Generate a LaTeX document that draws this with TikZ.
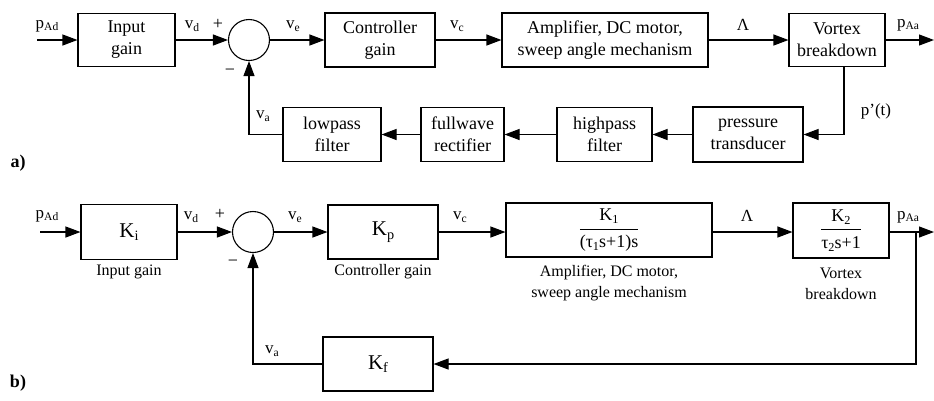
\documentclass[tikz,border=0pt]{standalone}
\usepackage{fontspec}
\setmainfont{Liberation Serif}
\usetikzlibrary{arrows.meta}
\newcommand{\lo}[1]{\raisebox{-0.35ex}{\scalebox{0.68}{#1}}}
\newcommand{\fr}[2]{\begin{tabular}{@{}c@{}}#1\\[1pt]\hline\rule{0pt}{19pt}#2\end{tabular}}
\tikzset{
  blk/.style={draw, line width=1.1pt, inner sep=0pt, align=center, font=\fontsize{18}{22}\selectfont},
  kblk/.style={draw, line width=1.1pt, inner sep=0pt, align=center, font=\fontsize{21}{24}\selectfont},
  sumc/.style={draw, circle, line width=1.1pt, inner sep=0pt, minimum size=41pt},
  arr/.style={line width=1.1pt, -{Triangle[length=15pt,width=11pt]}},
  ln/.style={line width=1.1pt},
  sig/.style={inner sep=0pt, font=\fontsize{17}{19}\selectfont},
  capt/.style={inner sep=0pt, align=center, font=\fontsize{16}{21}\selectfont},
  pm/.style={inner sep=0pt, font=\fontsize{18}{20}\selectfont},
  lab/.style={inner sep=0pt, font=\fontsize{18}{20}\selectfont\bfseries}
}
\begin{document}
\begin{tikzpicture}[x=1pt,y=-1pt]
\useasboundingbox (0,0) rectangle (934,400);
% ---------------- a) ----------------
\node[blk, minimum width=97pt, minimum height=53pt] (in) at (126.5,40) {Input\\gain};
\node[sumc] (sum) at (249,40) {};
\node[blk, minimum width=110pt, minimum height=54pt] (ctrl) at (380,40) {Controller\\gain};
\node[blk, minimum width=206pt, minimum height=54pt] (amp) at (605,40) {Amplifier, DC motor,\\sweep angle mechanism};
\node[blk, minimum width=96pt, minimum height=53pt] (vor) at (837,40) {Vortex\\breakdown};
\node[blk, minimum width=110pt, minimum height=55pt] (pt) at (748,134.5) {pressure\\transducer};
\node[blk, minimum width=95pt, minimum height=54pt] (hp) at (604.5,134.5) {highpass\\filter};
\node[blk, minimum width=83pt, minimum height=54pt] (fw) at (462.5,134.5) {fullwave\\rectifier};
\node[blk, minimum width=98pt, minimum height=54pt] (lp) at (332,134.5) {lowpass\\filter};
\coordinate (inA) at (37,40);
\coordinate (outA) at (934,40);
\coordinate (fbA) at (844,134.5);
\draw[arr] (inA) -- (in);
\draw[arr] (in) -- (sum);
\draw[arr] (sum) -- (ctrl);
\draw[arr] (ctrl) -- (amp);
\draw[arr] (amp) -- (vor);
\draw[arr] (vor) -- (outA);
\draw[arr] (vor.south -| fbA) -- (fbA) -- (pt);
\draw[arr] (pt) -- (hp);
\draw[arr] (hp) -- (fw);
\draw[arr] (fw) -- (lp);
\draw[arr] (lp.west) -| (sum.south);
\node[sig] (lpad) at (47,26) {p\lo{Ad}};
\node[sig] (lvd) at (192,26) {v\lo{d}};
\node[pm] (lplus) at (218,24) {+};
\node[pm] (lminus) at (230,72) {\textminus};
\node[sig] (lve) at (293,26) {v\lo{e}};
\node[sig] (lvc) at (457,26) {v\lo{c}};
\node[sig] (llam) at (743,25) {Λ};
\node[sig] (lpaa) at (908,25) {p\lo{Aa}};
\node[sig] (lpt) at (876,111) {p'(t)};
\node[sig] (lva) at (263,116) {v\lo{a}};
\node[lab] (la) at (18,163) {a)};
% ---------------- b) ----------------
\node[kblk, minimum width=96pt, minimum height=55pt] (ki) at (129,232) {K\lo{i}};
\node[sumc] (sumb) at (253,232) {};
\node[kblk, minimum width=110pt, minimum height=54pt] (kp) at (383,232) {K\lo{p}};
\node[blk, minimum width=206pt, minimum height=54pt] (k1) at (609,230) {\fr{K\lo{1}}{(τ\lo{1}s+1)s}};
\node[blk, minimum width=96pt, minimum height=55pt] (k2) at (841,230.5) {\fr{K\lo{2}}{τ\lo{2}s+1}};
\node[kblk, minimum width=110pt, minimum height=54pt] (kf) at (378,364) {K\lo{f}};
\coordinate (inB) at (40,232);
\coordinate (outB) at (934,232);
\coordinate (brB) at (916,232);
\draw[arr] (inB) -- (ki);
\draw[arr] (ki) -- (sumb);
\draw[arr] (sumb) -- (kp);
\draw[arr] (kp) -- (k1.west |- kp);
\draw[arr] (k1.east |- kp) -- (k2.west |- kp);
\draw[arr] (k2.east |- kp) -- (outB);
\draw[arr] (brB) |- (kf);
\draw[arr] (kf.west) -| (sumb.south);
\node[capt] (cki) at (129,272) {Input gain};
\node[capt] (ckp) at (383,272) {Controller gain};
\node[capt] (ck1) at (609,283) {Amplifier, DC motor,\\sweep angle mechanism};
\node[capt] (ck2) at (841,284) {Vortex\\breakdown};
\node[sig] (lpadb) at (47,216) {p\lo{Ad}};
\node[sig] (lvdb) at (191,217) {v\lo{d}};
\node[pm] (lplusb) at (220,214) {+};
\node[pm] (lminusb) at (233,263) {\textminus};
\node[sig] (lveb) at (295,217) {v\lo{e}};
\node[sig] (lvcb) at (460,217) {v\lo{c}};
\node[sig] (llamb) at (747,216) {Λ};
\node[sig] (lpaab) at (908,217) {p\lo{Aa}};
\node[sig] (lvab) at (272,351) {v\lo{a}};
\node[lab] (lb) at (18,383) {b)};
\end{tikzpicture}
\end{document}
